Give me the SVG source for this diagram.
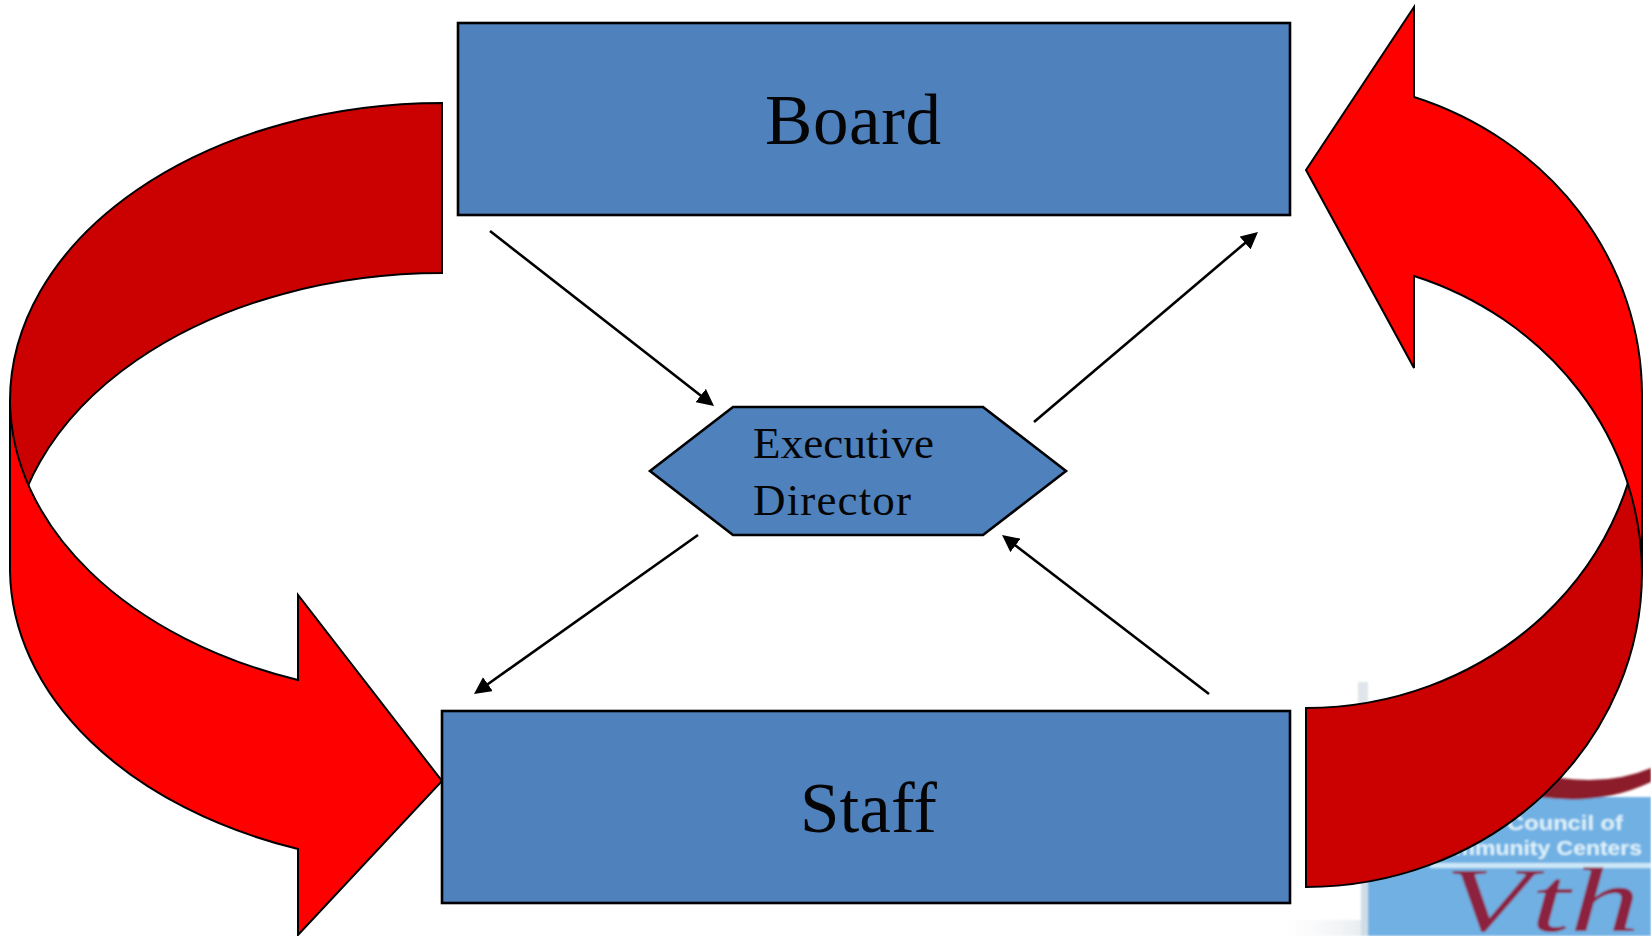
<svg xmlns="http://www.w3.org/2000/svg" width="1651" height="936" viewBox="0 0 1651 936">
  <style>
    .box { fill: #4f81bd; stroke: #000; stroke-width: 2.6; }
    .label { font-family: "Liberation Serif", "Times New Roman", serif; fill: #050505; }
    .big { font-size: 71px; }
    .small { font-size: 45px; }
    .front { fill: #ff0000; stroke: #000; stroke-width: 2; stroke-linejoin: miter; }
    .back { fill: #cb0000; stroke: #000; stroke-width: 2; }
    .link { fill: none; stroke: #000; stroke-width: 2.6; marker-end: url(#head); }
    .logotext { font-family: "Liberation Sans", Arial, sans-serif; font-weight: bold; font-size: 21px; fill: #dff3fb; }
  </style>
  <defs>
    <marker id="head" markerUnits="userSpaceOnUse" markerWidth="18" markerHeight="17" viewBox="0 0 18 17" refX="11" refY="8.5" orient="auto">
      <path d="M0,0 L17,8.5 L0,17 Z" fill="#000"/>
    </marker>
    <filter id="soft" x="-5%" y="-5%" width="110%" height="110%"><feGaussianBlur stdDeviation="0.9"/></filter>
    <linearGradient id="fade" x1="0" x2="1" y1="0" y2="0">
      <stop offset="0" stop-color="#f6f7f8" stop-opacity="0"/>
      <stop offset="1" stop-color="#e6eaed"/>
    </linearGradient>
  </defs>
  <rect width="1651" height="936" fill="#fff"/>

  <g id="logo" filter="url(#soft)">
    <rect x="1280" y="920" width="88" height="16" fill="url(#fade)"/>
    <rect x="1358" y="682" width="10" height="24" fill="#dfe5ea"/>
    <rect x="1361" y="790" width="7" height="146" fill="#cfdde6"/>
    <rect x="1368" y="797" width="283" height="139" fill="#6fb0e3"/>
    <path d="M1530,772 Q1600,790 1651,768 L1651,782 Q1600,806 1540,797 Z" fill="#8c1c2b"/>
    <text class="logotext" x="1507" y="830" textLength="116" lengthAdjust="spacingAndGlyphs">Council of</text>
    <text class="logotext" x="1424" y="855" textLength="218" lengthAdjust="spacingAndGlyphs">Community Centers</text>
    <rect x="1430" y="863" width="221" height="5" fill="#cde8f8"/>
    <text x="1445" y="931" font-family="Liberation Serif, serif" font-style="italic" font-size="90" textLength="195" lengthAdjust="spacingAndGlyphs" fill="#8c2440">Vth</text>
  </g>

  <g id="arrow-right">
    <path class="back" d="M1306,708 A336,315 0 0 0 1642,393 L1642,572 A336,315 0 0 1 1306,887 Z"/>
    <path class="front" d="M1414,97 A336,315 0 0 1 1642,395 L1642,574 A336,315 0 0 0 1414,276 L1414,368 L1306,170 L1414,7 Z"/>
  </g>
  <g id="arrow-left">
    <path class="back" d="M442,103 A432,298 0 0 0 10,401 L10,571 A432,298 0 0 1 442,273 Z"/>
    <path class="front" d="M10,401 A432,298 0 0 0 298,680 L298,595 L442,781 L298,935 L298,849 A432,298 0 0 1 10,571 Z"/>
  </g>

  <g id="board">
    <rect class="box" x="458" y="23" width="832" height="192"/>
    <text class="label big" x="765" y="144" textLength="176">Board</text>
  </g>
  <g id="staff">
    <rect class="box" x="442" y="711" width="848" height="192"/>
    <text class="label big" x="800" y="832" textLength="137">Staff</text>
  </g>
  <g id="executive-director">
    <polygon class="box" points="650,471 733,407 983,407 1066,471 983,535 733,535"/>
    <text class="label small" x="753" y="458" textLength="181">Executive</text>
    <text class="label small" x="753" y="515" textLength="158">Director</text>
  </g>

  <g id="connectors">
    <line class="link" x1="490" y1="231" x2="709.3" y2="402.3"/>
    <line class="link" x1="1034" y1="422" x2="1253.4" y2="235.9"/>
    <line class="link" x1="698" y1="535" x2="478.9" y2="690.5"/>
    <line class="link" x1="1209" y1="694" x2="1006.8" y2="538.7"/>
  </g>
</svg>
